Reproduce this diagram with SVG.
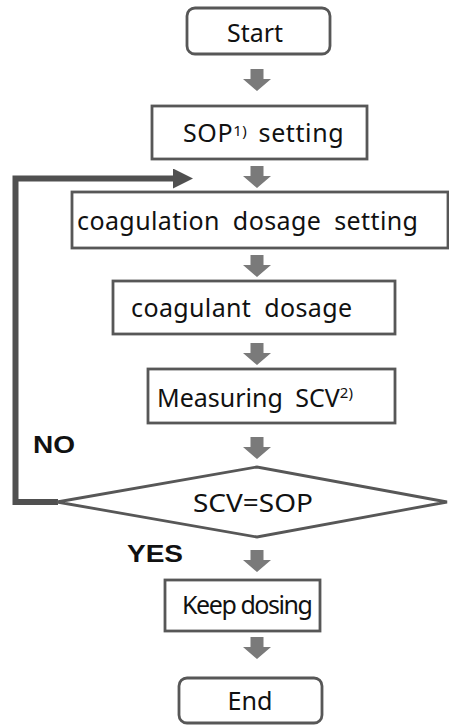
<svg xmlns="http://www.w3.org/2000/svg" width="449" height="726" viewBox="0 0 449 726">
<style>
.box{fill:#fff;stroke:#575757;stroke-width:2.8}
.t{font-family:"Noto Sans","Liberation Sans",sans-serif;font-size:25px;fill:#111}
.sup{font-size:15px}
.lbl{font-family:"Liberation Sans",Arial,sans-serif;font-weight:bold;font-size:24px;fill:#111}
.blk{fill:#7a7a7a}
</style>
<defs>
<path id="blk" d="M-6.5 0 h13 v10 h7.5 l-14 12 l-14 -12 h7.5 z"/>
<marker id="ah" markerUnits="userSpaceOnUse" markerWidth="20" markerHeight="20" refX="0" refY="10" orient="auto">
<path d="M0 0 L20 10 L0 20 z" fill="#505050"/>
</marker>
</defs>
<rect width="449" height="726" fill="#fff"/>
<g id="connectors">
<use href="#blk" class="blk" x="257" y="69"/>
<use href="#blk" class="blk" x="257" y="166"/>
<use href="#blk" class="blk" x="257" y="255"/>
<use href="#blk" class="blk" x="257" y="343"/>
<use href="#blk" class="blk" x="257" y="437"/>
<use href="#blk" class="blk" x="257" y="550"/>
<use href="#blk" class="blk" x="257" y="637"/>
<polyline points="58,502 15.5,502 15.5,178.5 173,178.5" fill="none" stroke="#505050" stroke-width="6" marker-end="url(#ah)"/>
</g>
<g id="start">
<rect class="box" x="187" y="8" width="143" height="46" rx="8"/>
<text class="t" x="255" y="42" text-anchor="middle" textLength="56" lengthAdjust="spacingAndGlyphs">Start</text>
</g>
<g id="sop">
<rect class="box" x="152" y="106" width="215" height="53"/>
<text class="t" x="183" y="142" letter-spacing="0.6" word-spacing="4">SOP<tspan class="sup" dy="-6">1)</tspan><tspan dy="6"> setting</tspan></text>
</g>
<g id="coagset">
<rect class="box" x="72" y="192" width="376" height="56"/>
<text class="t" x="77" y="230" textLength="341" lengthAdjust="spacing" word-spacing="6">coagulation dosage setting</text>
</g>
<g id="coagdose">
<rect class="box" x="113" y="281" width="282" height="53"/>
<text class="t" x="131" y="317" textLength="221" lengthAdjust="spacing" word-spacing="6">coagulant dosage</text>
</g>
<g id="measure">
<rect class="box" x="148" y="369" width="247" height="54"/>
<text class="t" x="157" y="407" word-spacing="6">Measuring SCV<tspan class="sup" dy="-9">2)</tspan></text>
</g>
<g id="decision">
<polygon class="box" points="57,502 257,467 447,502 257,537"/>
<text class="t" x="253" y="512" text-anchor="middle" textLength="120" lengthAdjust="spacingAndGlyphs">SCV=SOP</text>
</g>
<g id="keep">
<rect class="box" x="165" y="580" width="155" height="51"/>
<text class="t" x="182" y="614" textLength="131" lengthAdjust="spacing">Keep dosing</text>
</g>
<g id="end">
<rect class="box" x="179" y="678" width="143" height="45" rx="8"/>
<text class="t" x="250" y="710" text-anchor="middle" textLength="45" lengthAdjust="spacingAndGlyphs">End</text>
</g>
<text class="lbl" x="33" y="453" textLength="42" lengthAdjust="spacingAndGlyphs">NO</text>
<text class="lbl" x="127" y="562" textLength="56" lengthAdjust="spacingAndGlyphs">YES</text>
</svg>
